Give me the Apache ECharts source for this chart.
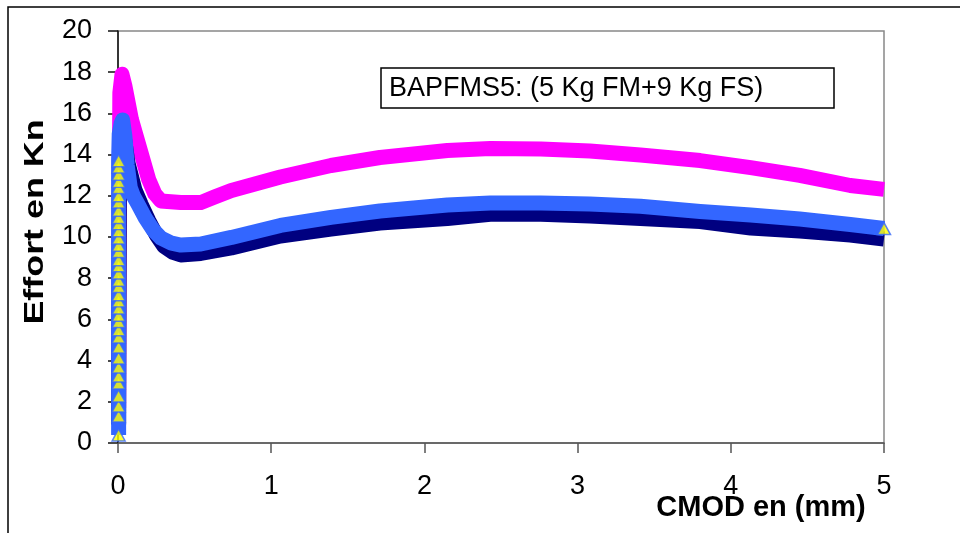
<!DOCTYPE html>
<html><head><meta charset="utf-8">
<script src="https://cdn.jsdelivr.net/npm/echarts@6/dist/echarts.min.js"></script>
<style>html,body{margin:0;padding:0;background:#fff}#c{width:960px;height:533px}</style>
</head><body><div id="c"></div>
<script>
// ---- data ----
const xTicks = [0, 1, 2, 3, 4, 5];
const yTicks = [0, 2, 4, 6, 8, 10, 12, 14, 16, 18, 20];
const boxText = 'BAPFMS5: (5 Kg FM+9 Kg FS)';
const xTitle = 'CMOD en (mm)';
const yTitle = 'Effort en Kn';

// magenta series (squares)
const magentaX = [0.004, 0.006, 0.012, 0.026, 0.046, 0.088, 0.15, 0.2, 0.24, 0.28, 0.41, 0.54, 0.63, 0.74, 1.06, 1.39, 1.71, 2.15, 2.43, 2.76, 3.08, 3.41, 3.8, 4.13, 4.45, 4.78, 5.0];
const magentaY = [1.7, 9.8, 17.0, 17.9, 17.3, 15.7, 14.1, 12.8, 12.1, 11.75, 11.67, 11.67, 11.94, 12.26, 12.91, 13.47, 13.86, 14.2, 14.3, 14.27, 14.17, 13.98, 13.71, 13.37, 12.99, 12.5, 12.31];

// blue series (triangles): rising markers at the origin, then the curve
const blueRiseX = 0.004;
const blueRiseY = [0.39, 1.31, 1.8, 2.28, 2.91, 3.25, 3.69, 4.13, 4.66, 5.15, 5.5, 5.9, 6.2, 6.55, 6.9, 7.2, 7.6, 7.9, 8.25, 8.6, 8.9, 9.3, 9.6, 9.95, 10.3, 10.65, 10.95, 11.3, 11.7, 12.0, 12.4, 12.7, 13.05, 13.4, 13.7];
const blueX = [0.008, 0.02, 0.03, 0.045, 0.06, 0.08, 0.1, 0.13, 0.18, 0.23, 0.28, 0.35, 0.41, 0.54, 0.74, 1.06, 1.39, 1.71, 2.15, 2.43, 2.76, 3.08, 3.41, 3.8, 4.13, 4.45, 4.78, 5.0];
const blueY = [15.0, 15.5, 15.68, 14.9, 13.5, 12.4, 12.0, 11.6, 10.9, 10.34, 9.95, 9.7, 9.61, 9.66, 9.98, 10.56, 10.95, 11.26, 11.55, 11.65, 11.65, 11.6, 11.49, 11.24, 11.07, 10.87, 10.61, 10.41];

// navy series (diamonds)
const navyX = [0.004, 0.01, 0.03, 0.065, 0.11, 0.15, 0.2, 0.25, 0.3, 0.36, 0.41, 0.54, 0.74, 1.06, 1.39, 1.71, 2.15, 2.43, 2.76, 3.08, 3.41, 3.8, 4.13, 4.45, 4.78, 5.0];
const navyY = [0.9, 14.5, 15.4, 13.6, 12.3, 11.6, 10.8, 10.1, 9.55, 9.25, 9.13, 9.2, 9.47, 10.05, 10.39, 10.68, 10.9, 11.1, 11.1, 11.02, 10.9, 10.75, 10.44, 10.29, 10.1, 9.9];

// ---- build ----
const FONT = '"Liberation Sans", Arial, sans-serif';
const zip = (xs, ys) => xs.map((x, i) => [x, ys[i]]);
const blueRise = blueRiseY.map(y => [blueRiseX, y]);
const blueAll = blueRise.concat(zip(blueX, blueY));
const blueMarks = blueRise.concat([[blueX[blueX.length - 1], blueY[blueY.length - 1]]]);

const chart = echarts.init(document.getElementById('c'), null, {renderer: 'canvas'});
chart.setOption({
  animation: false,
  backgroundColor: '#fff',
  grid: {left: 118, right: 76, top: 31, bottom: 90, show: true, borderColor: '#888', borderWidth: 1.5, backgroundColor: 'transparent', containLabel: false, outerBoundsMode: 'none'},
  xAxis: {
    type: 'value', min: xTicks[0], max: xTicks[xTicks.length - 1], interval: 1,
    axisLine: {show: true, onZero: false, lineStyle: {color: '#555', width: 1.5}},
    axisTick: {show: true, inside: false, length: 10, lineStyle: {color: '#555', width: 1.5}},
    axisLabel: {fontSize: 27, color: '#000', margin: 30, fontFamily: FONT},
    splitLine: {show: false}
  },
  yAxis: {
    type: 'value', min: yTicks[0], max: yTicks[yTicks.length - 1], interval: 2,
    axisLine: {show: true, onZero: false, lineStyle: {color: '#111', width: 1.5}},
    axisTick: {show: true, inside: false, length: 10, lineStyle: {color: '#111', width: 1.5}},
    axisLabel: {fontSize: 27, color: '#000', margin: 26, fontFamily: FONT},
    splitLine: {show: false}
  },
  series: [
    {type: 'line', data: zip(magentaX, magentaY), symbol: 'none', clip: false, z: 2,
     lineStyle: {color: '#FF00FF', width: 15, join: 'round'}},
    {type: 'line', data: zip(navyX, navyY), symbol: 'none', clip: false, z: 3,
     lineStyle: {color: '#000080', width: 15, join: 'round'}},
    {type: 'line', data: blueAll, symbol: 'none', clip: false, z: 4,
     lineStyle: {color: '#3366FF', width: 15, join: 'round'}},
    {type: 'scatter', data: blueMarks, symbol: 'triangle', symbolSize: [13, 12], clip: false, z: 5,
     itemStyle: {color: '#FFFF00', borderColor: '#3366FF', borderWidth: 1.5}}
  ],
  graphic: [
    {type: 'rect', silent: true, z: 0, shape: {x: 8, y: 7, width: 1000, height: 600},
     style: {fill: 'none', stroke: '#000', lineWidth: 1.5}},
    {type: 'rect', z: 100, shape: {x: 381, y: 68, width: 453, height: 40},
     style: {fill: '#fff', stroke: '#000', lineWidth: 1.5}},
    {type: 'text', z: 101, x: 389, y: 89,
     style: {text: boxText, font: '27px ' + FONT, fill: '#000', textVerticalAlign: 'middle', verticalAlign: 'middle'}},
    {type: 'text', z: 101, x: 761, y: 508,
     style: {text: xTitle, font: 'bold 29px ' + FONT, fill: '#000', align: 'center', textAlign: 'center', verticalAlign: 'middle', textVerticalAlign: 'middle'}},
    {type: 'text', z: 101, x: 35, y: 222, rotation: Math.PI / 2, scaleX: 1.28,
     style: {text: yTitle, font: 'bold 28px ' + FONT, fill: '#000', align: 'center', textAlign: 'center', verticalAlign: 'middle', textVerticalAlign: 'middle'}}
  ]
});
</script>
</body></html>
